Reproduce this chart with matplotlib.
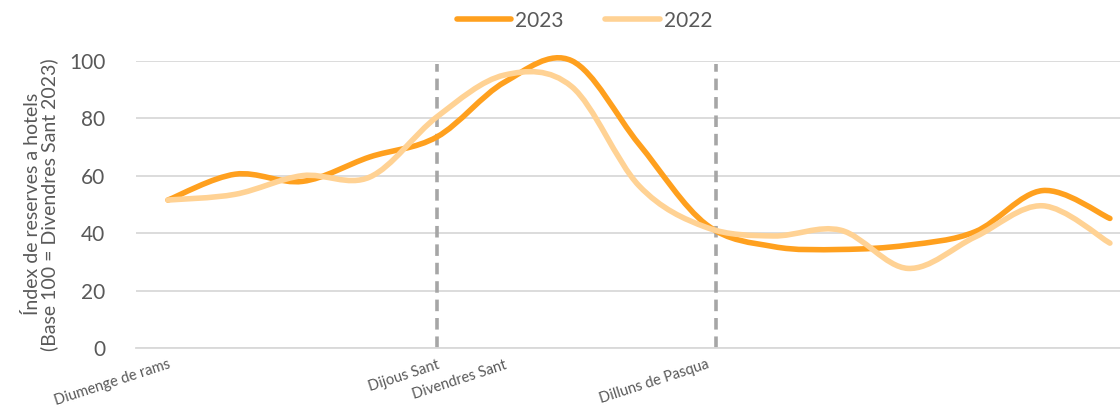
import matplotlib.pyplot as plt
import numpy as np
from matplotlib.path import Path
from matplotlib.patches import PathPatch
from matplotlib.lines import Line2D

plt.rcParams['font.family'] = ['Lato', 'DejaVu Sans']

# daily hotel booking index, Palm Sunday onwards (15 days)
days = np.arange(15)
idx_2023 = [51.5, 60.5, 58, 66.5, 73.5, 92.5, 100, 71, 43, 35.3, 34.3, 35.8, 40.5, 54.8, 45.1]
idx_2022 = [51.5, 53.5, 60, 59.5, 80.5, 95, 91, 56.5, 42, 39, 41, 27.7, 38.7, 49.5, 36.5]

tick_pos = [0, 4, 5, 8]
tick_labels = ['Diumenge de rams', 'Dijous Sant', 'Divendres Sant', 'Dilluns de Pasqua']
event_lines = [4, 8.15]

col_2023 = '#FFA01E'
col_2022 = '#FFD294'
txt = '#595959'


def smooth_path(x, y):
    # cubic bezier through every point, excel-style smoothing
    x = np.asarray(x, float)
    y = np.asarray(y, float)
    px = np.concatenate([[x[0]], x, [x[-1]]])
    py = np.concatenate([[y[0]], y, [y[-1]]])
    verts = [(x[0], y[0])]
    codes = [Path.MOVETO]
    for i in range(1, len(x)):
        c1 = (px[i] + (px[i + 1] - px[i - 1]) / 6, py[i] + (py[i + 1] - py[i - 1]) / 6)
        c2 = (px[i + 1] - (px[i + 2] - px[i]) / 6, py[i + 1] - (py[i + 2] - py[i]) / 6)
        verts += [c1, c2, (x[i], y[i])]
        codes += [Path.CURVE4] * 3
    return Path(verts, codes)


fig = plt.figure(figsize=(11.2, 4.07), dpi=100)
ax = fig.add_axes([136 / 1120, 1 - 348 / 407, 1 - 136 / 1120, (348 - 60.7) / 407])

for v in event_lines:
    ax.plot([v, v], [0, 99], color='#A6A6A6', lw=2.6, ls=(0, (3.2, 1.9)), zorder=1)

for data, col, z in [(idx_2022, col_2022, 3), (idx_2023, col_2023, 2)]:
    ax.add_patch(PathPatch(smooth_path(days, data), facecolor='none', edgecolor=col,
                           lw=4, capstyle='round', joinstyle='round', zorder=z, clip_on=False))

ax.set_xlim(-0.475, 14.15)
ax.set_ylim(0, 100)
ax.set_yticks(range(0, 101, 20))
ax.yaxis.grid(True, color='#D9D9D9', lw=1.3)
ax.set_axisbelow(True)
for s in ['top', 'right', 'left']:
    ax.spines[s].set_visible(False)
ax.spines['bottom'].set_color('#D9D9D9')
ax.spines['bottom'].set_linewidth(1.3)
ax.tick_params(axis='both', length=0, colors=txt)
ax.tick_params(axis='y', labelsize=15, pad=22)

ax.set_xticks(tick_pos)
ax.set_xticklabels(tick_labels, rotation=18, ha='right', rotation_mode='anchor',
                   fontsize=10.5, color=txt)
ax.tick_params(axis='x', pad=7)

ax.set_ylabel('Índex de reserves a hotels\n(Base 100 = Divendres Sant 2023)',
              fontsize=14, color=txt, labelpad=8, linespacing=0.95)

handles = [Line2D([], [], color=col_2023, lw=4, solid_capstyle='round'),
           Line2D([], [], color=col_2022, lw=4, solid_capstyle='round')]
fig.legend(handles, ['2023', '2022'], loc='upper center', bbox_to_anchor=(0.522, 1.02),
           ncol=2, frameon=False, fontsize=15, handlelength=2.6, handletextpad=0.2,
           columnspacing=2.0, labelcolor=txt)

fig.savefig('out.png', dpi=100)
